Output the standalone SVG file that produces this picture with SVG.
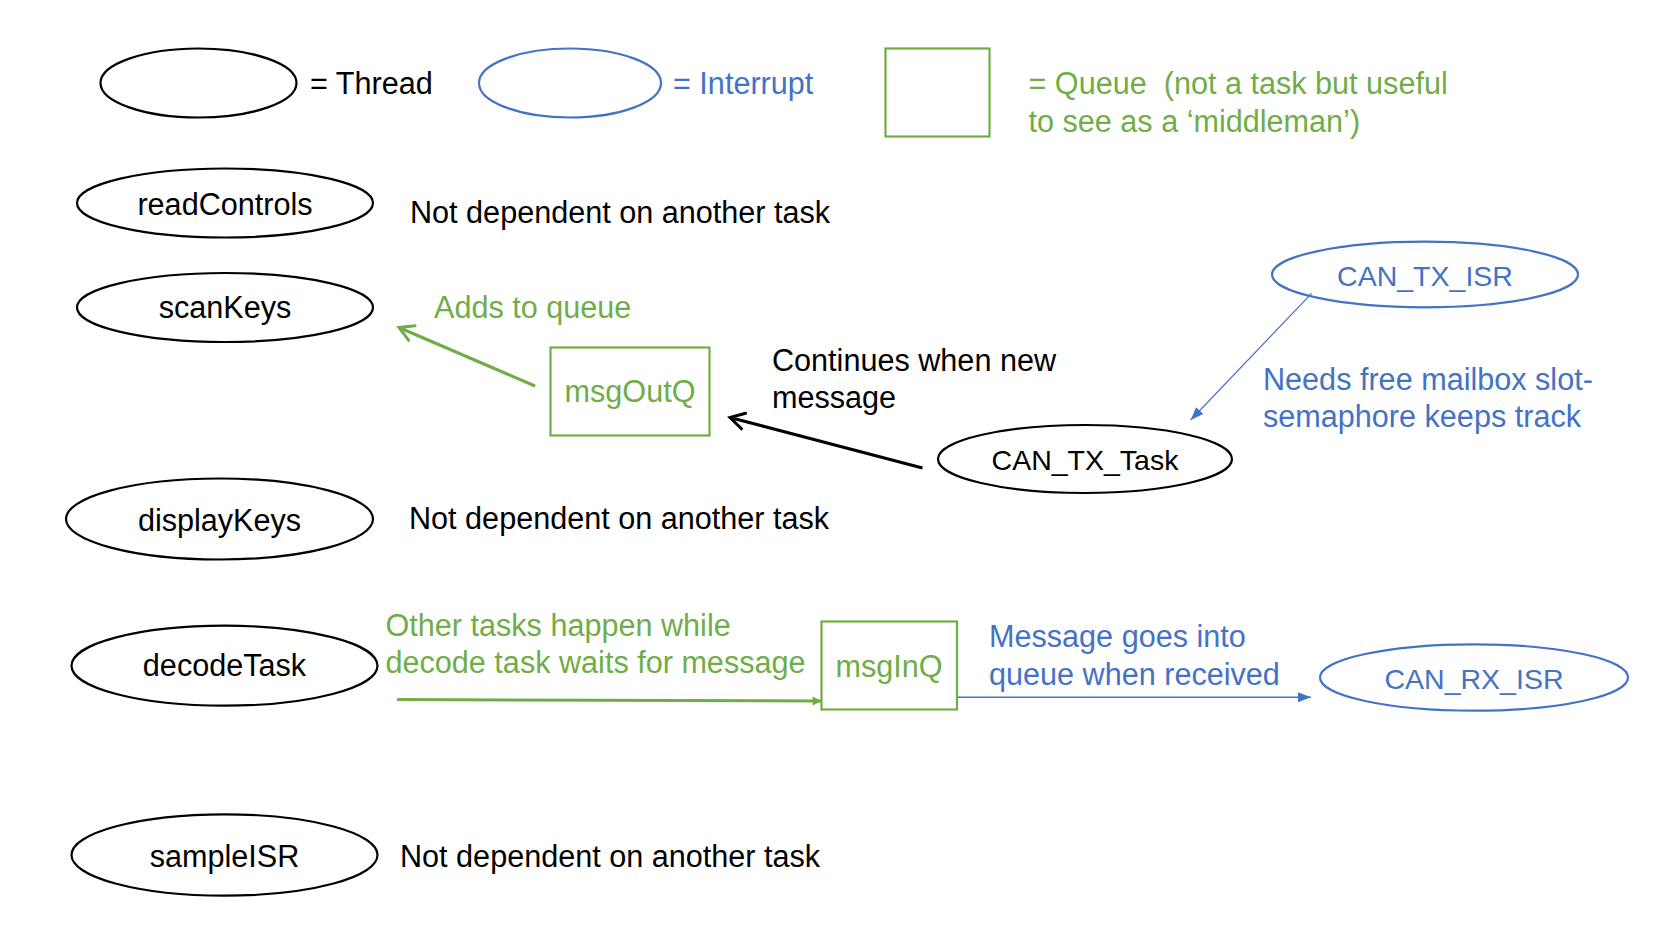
<svg xmlns="http://www.w3.org/2000/svg" width="1662" height="933" viewBox="0 0 1662 933">
<style>
text { font-family: "Liberation Sans", Arial, sans-serif; font-size: 30.6px; }
.k { fill: #000000; }
.b { fill: #4472C4; }
.g { fill: #70AD47; }
.c { text-anchor: middle; }
.caps { font-size: 28.5px; }
.thread { fill: none; stroke: #000000; stroke-width: 2.2; }
.intr { fill: none; stroke: #4472C4; stroke-width: 2.2; }
.queue { fill: none; stroke: #70AD47; stroke-width: 2.2; }
</style>
<defs>
<marker id="openG" markerUnits="userSpaceOnUse" markerWidth="22" markerHeight="22" refX="18" refY="10" orient="auto" overflow="visible">
<path d="M4,2 L18,10 L4,18" fill="none" stroke="#70AD47" stroke-width="3" stroke-linecap="round" stroke-linejoin="miter"/>
</marker>
<marker id="openK" markerUnits="userSpaceOnUse" markerWidth="22" markerHeight="22" refX="18" refY="10" orient="auto" overflow="visible">
<path d="M4,2 L18,10 L4,18" fill="none" stroke="#000000" stroke-width="3" stroke-linecap="round" stroke-linejoin="miter"/>
</marker>
<marker id="triB" markerUnits="userSpaceOnUse" markerWidth="14" markerHeight="10" refX="13" refY="5" orient="auto" overflow="visible">
<path d="M0,0 L13,5 L0,10 z" fill="#4472C4"/>
</marker>
<marker id="triG" markerUnits="userSpaceOnUse" markerWidth="10" markerHeight="10" refX="9" refY="5" orient="auto" overflow="visible">
<path d="M0,0.5 L9,5 L0,9.5 z" fill="#70AD47"/>
</marker>
</defs>
<rect width="1662" height="933" fill="#ffffff"/>

<g id="legend">
<g id="legend-thread">
<ellipse class="thread" cx="198.5" cy="83" rx="98" ry="34.5"/>
<text class="k" x="310" y="94">= Thread</text>
</g>
<g id="legend-interrupt">
<ellipse class="intr" cx="570" cy="83" rx="91" ry="34.5"/>
<text class="b" x="673" y="94">= Interrupt</text>
</g>
<g id="legend-queue">
<rect class="queue" x="885.5" y="48.5" width="104" height="88"/>
<text class="g" x="1028.5" y="94" xml:space="preserve">= Queue  (not a task but useful</text>
<text class="g" x="1028.5" y="131.5">to see as a ‘middleman’)</text>
</g>
</g>

<g id="readControls">
<ellipse class="thread" cx="225" cy="203" rx="148" ry="34.5"/>
<text class="k c" x="225" y="215">readControls</text>
</g>
<text class="k" x="410" y="223">Not dependent on another task</text>

<g id="scanKeys">
<ellipse class="thread" cx="225" cy="307.5" rx="148" ry="34.5"/>
<text class="k c" x="225" y="318">scanKeys</text>
</g>

<g id="msgOutQ">
<rect class="queue" x="550.5" y="347.5" width="159" height="88"/>
<text class="g c" x="630" y="401.5">msgOutQ</text>
</g>

<g id="CAN_TX_ISR">
<ellipse class="intr" cx="1425" cy="274.5" rx="153" ry="32.8"/>
<text class="b c caps" x="1425" y="286">CAN_TX_ISR</text>
</g>

<g id="CAN_TX_Task">
<ellipse class="thread" cx="1085" cy="459" rx="147" ry="34"/>
<text class="k c caps" x="1085" y="470">CAN_TX_Task</text>
</g>

<g id="displayKeys">
<ellipse class="thread" cx="219.5" cy="519" rx="153.5" ry="40.5"/>
<text class="k c" x="219.5" y="531">displayKeys</text>
</g>
<text class="k" x="409" y="528.5">Not dependent on another task</text>

<g id="decodeTask">
<ellipse class="thread" cx="224.5" cy="665.7" rx="153" ry="40"/>
<text class="k c" x="224.5" y="676">decodeTask</text>
</g>

<g id="msgInQ">
<rect class="queue" x="821.5" y="621.5" width="135.5" height="88"/>
<text class="g c" x="889" y="677">msgInQ</text>
</g>

<g id="CAN_RX_ISR">
<ellipse class="intr" cx="1474" cy="677.5" rx="154" ry="33.2"/>
<text class="b c caps" x="1474" y="688.5">CAN_RX_ISR</text>
</g>

<g id="sampleISR">
<ellipse class="thread" cx="224.5" cy="855" rx="153" ry="40.7"/>
<text class="k c" x="224.5" y="867">sampleISR</text>
</g>
<text class="k" x="400" y="867">Not dependent on another task</text>

<g id="connectors">
<line x1="535" y1="386" x2="399" y2="327.5" stroke="#70AD47" stroke-width="3" marker-end="url(#openG)"/>
<line x1="922.5" y1="468" x2="730" y2="417.5" stroke="#000000" stroke-width="3" marker-end="url(#openK)"/>
<line x1="1311.7" y1="293.3" x2="1190.7" y2="420" stroke="#4472C4" stroke-width="1.2" marker-end="url(#triB)"/>
<line x1="397" y1="699.5" x2="821.5" y2="701" stroke="#70AD47" stroke-width="3" marker-end="url(#triG)"/>
<line x1="958" y1="697.3" x2="1311" y2="697.3" stroke="#4472C4" stroke-width="1.4" marker-end="url(#triB)"/>
</g>

<g id="labels">
<text class="g" x="434" y="317.5">Adds to queue</text>
<text class="k" x="772" y="371">Continues when new</text>
<text class="k" x="772" y="408">message</text>
<text class="b" x="1263" y="390">Needs free mailbox slot-</text>
<text class="b" x="1263" y="427">semaphore keeps track</text>
<text class="g" x="385.5" y="636">Other tasks happen while</text>
<text class="g" x="385.5" y="672.5">decode task waits for message</text>
<text class="b" x="989" y="647">Message goes into</text>
<text class="b" x="989" y="685">queue when received</text>
</g>
</svg>
